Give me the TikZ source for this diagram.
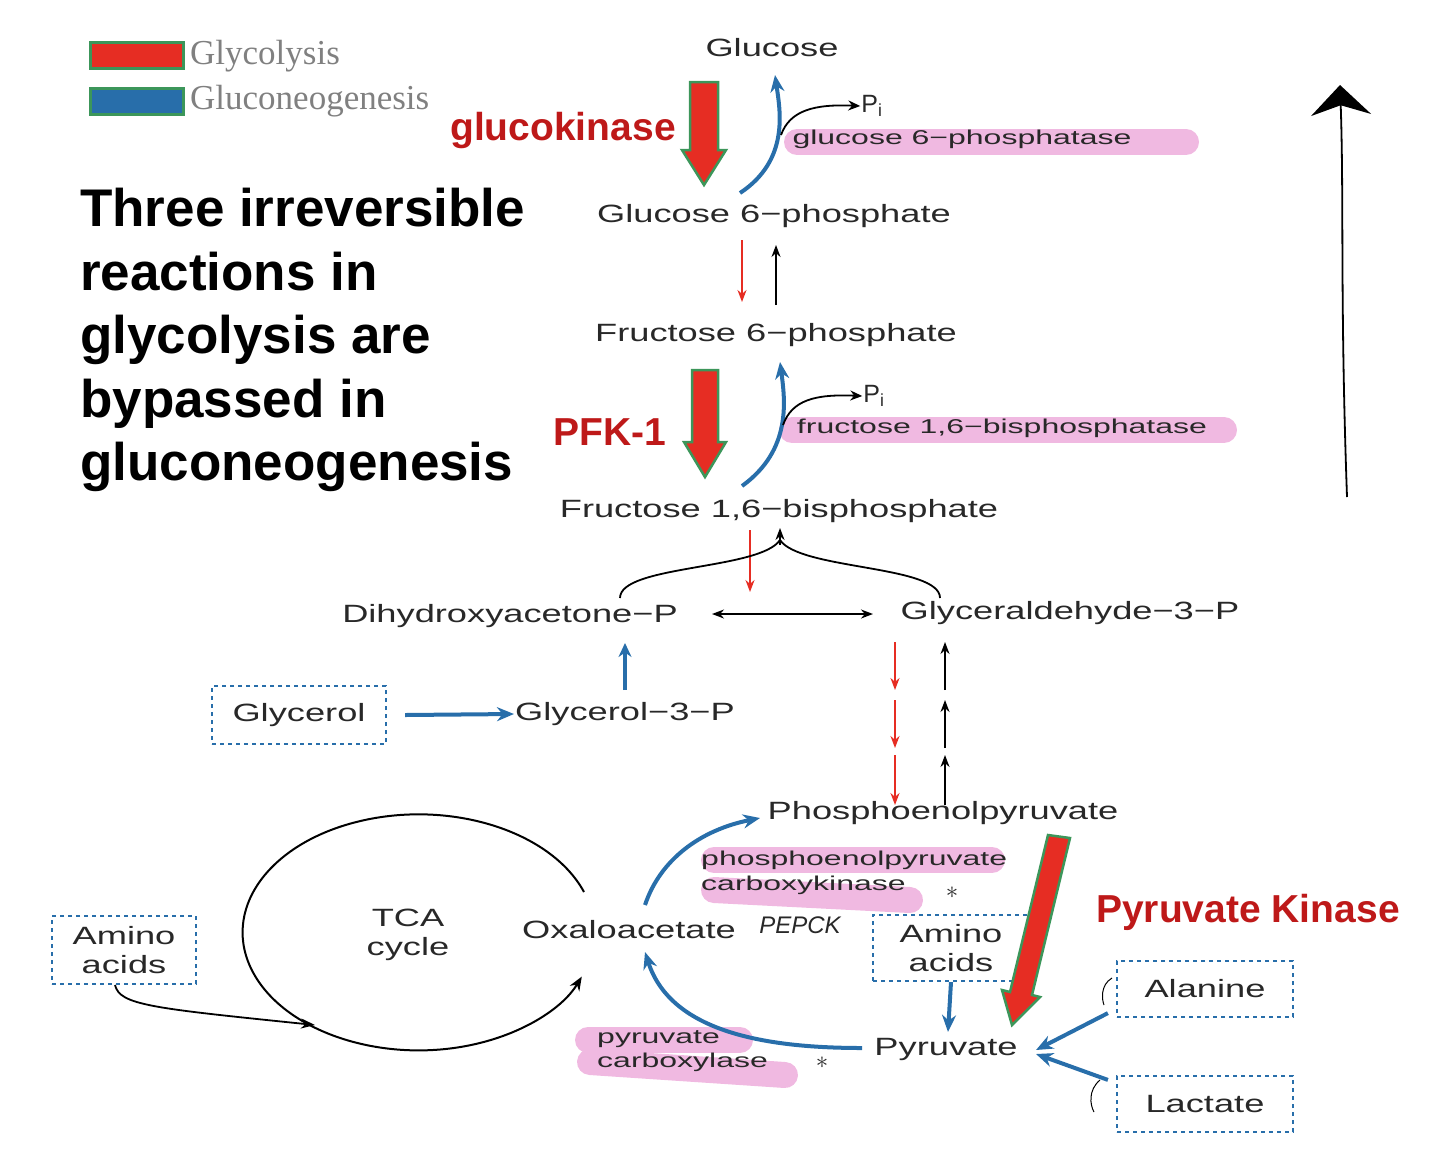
\documentclass[tikz,border=0pt]{standalone}
\usepackage{fontspec}
\setmainfont{Liberation Sans}
\newfontfamily\serifleg{Liberation Serif}
\usetikzlibrary{arrows.meta,shapes.geometric}
\definecolor{bl}{RGB}{40,110,170}
\definecolor{rd}{RGB}{230,45,35}
\definecolor{gr}{RGB}{60,150,90}
\definecolor{dred}{RGB}{190,25,25}
\definecolor{pk}{RGB}{240,185,225}
\definecolor{tx}{RGB}{40,40,40}
\newcommand{\wtx}[2][1.45]{\scalebox{#1}[1]{#2}}
\newcommand{\etx}[1]{\scalebox{1.6}[1]{#1}}
\tikzset{
 met/.style={font=\fontsize{25}{28}\selectfont, text=tx, inner sep=1pt},
 enz/.style={font=\fontsize{20}{22}\selectfont, text=tx, inner sep=1pt},
 lab/.style={font=\fontsize{39}{42}\selectfont\bfseries, text=dred},
 box/.style={draw=bl, dashed, line width=2.2pt, dash pattern=on 4pt off 4pt},
 thin/.style={line width=1.8pt,-{Stealth[length=12pt,width=9pt]}},
 blu/.style={bl, line width=4pt,-{Stealth[length=17pt,width=14pt]}},
 hl/.style={pk, line cap=round, line width=26pt},
 fat/.style={fill=rd, draw=gr, line width=2.5pt, line join=miter}
}
\begin{document}
\begin{tikzpicture}[x=1pt,y=-1pt]
\useasboundingbox (0,0) rectangle (1440,1160);
% legend
\draw[fill=rd, draw=gr, line width=3pt] (90,42) rectangle (183,68);
\draw[fill=bl, draw=gr, line width=3pt] (90,88) rectangle (183,114);
\node[anchor=west, font=\serifleg\fontsize{35}{36}\selectfont, text=gray, inner sep=1pt] (lg1) at (189,56) {Glycolysis};
\node[anchor=west, font=\serifleg\fontsize{35}{36}\selectfont, text=gray, inner sep=1pt] (lg2) at (189,101) {Gluconeogenesis};
% big text
\node[anchor=north west, align=left, font=\fontsize{53}{63.5}\selectfont\bfseries, inner sep=0] (title) at (80,188) {Three irreversible\\reactions in\\glycolysis are\\bypassed in\\gluconeogenesis};
% highlights
\draw[hl] (797,142) -- (1186,142);
\draw[hl] (792,430) -- (1224,430);
\draw[hl] (714,860) -- (992,860);
\draw[hl] (714,890) -- (910,900);
\draw[hl] (588,1040) -- (740,1040);
\draw[hl] (590,1062) -- (785,1075);
% metabolites
\node[met] (glc) at (772,48) {\wtx{Glucose}};
\node[met] (g6p) at (774,216) {\wtx{Glucose 6−phosphate}};
\node[met] (f6p) at (776,335) {\wtx{Fructose 6−phosphate}};
\node[met] (fbp) at (779,511) {\wtx{Fructose 1,6−bisphosphate}};
\node[met] (dhap) at (510,616) {\wtx{Dihydroxyacetone−P}};
\node[met] (gap) at (1070,613) {\wtx{Glyceraldehyde−3−P}};
\node[met] (g3p) at (625,714) {\wtx{Glycerol−3−P}};
\node[met] (pep) at (943,813) {\wtx{Phosphoenolpyruvate}};
\node[met] (oaa) at (629,930) {\wtx{Oxaloacetate}};
\node[met] (pyr) at (946,1049) {\wtx{Pyruvate}};
\node[met, align=center, font=\fontsize{25}{29}\selectfont] (tca) at (408,935) {\wtx{TCA}\\\wtx{cycle}};
% enzymes
\node[enz] (e1) at (962,139) {\etx{glucose 6−phosphatase}};
\node[enz] (e2) at (1002,428) {\etx{fructose 1,6−bisphosphatase}};
\node[enz, anchor=west] (e3) at (700,860) {\etx{phosphoenolpyruvate}};
\node[enz, anchor=west] (e4) at (700,885) {\etx{carboxykinase}};
\node[enz, anchor=west] (e5) at (596,1039) {\etx{pyruvate}};
\node[enz, anchor=west] (e6) at (596,1062) {\etx{carboxylase}};
\node[met] (pi1) at (872,106) {P$_\mathrm{i}$};
\node[met] (pi2) at (874,396) {P$_\mathrm{i}$};
\node[font=\fontsize{24}{24}\selectfont\itshape, text=tx] (pepck) at (800,925) {PEPCK};
\node[font=\fontsize{40}{40}\selectfont, text=tx] (ast1) at (952,893) {$\ast$};
\node[font=\fontsize{40}{40}\selectfont, text=tx] (ast2) at (822,1063) {$\ast$};
% labels
\node[lab] (gk) at (563,130) {glucokinase};
\node[lab] (pfk) at (610,432) {PFK-1};
\node[lab] (pk) at (1248,912) {Pyruvate Kinase};
% boxes
\node[box, minimum width=174pt, minimum height=58pt, met] (gly) at (299,715) {\wtx{Glycerol}};
\node[box, minimum width=144pt, minimum height=68pt, met, align=center, font=\fontsize{25}{29}\selectfont] (aa1) at (124,950) {\wtx{Amino}\\\wtx{acids}};
\node[box, minimum width=156pt, minimum height=66pt, met, align=center, font=\fontsize{25}{29}\selectfont] (aa2) at (951,948) {\wtx{Amino}\\\wtx{acids}};
\node[box, minimum width=176pt, minimum height=56pt, met] (ala) at (1205,989) {\wtx{Alanine}};
\node[box, minimum width=176pt, minimum height=56pt, met] (lac) at (1205,1104) {\wtx{Lactate}};
% fat arrows
\draw[fat] (690,82) -- (718,82) -- (718,150) -- (726,150) -- (704,185) -- (682,150) -- (690,150) -- cycle;
\draw[fat] (692,370) -- (718,370) -- (718,442) -- (726,442) -- (705,477) -- (684,442) -- (692,442) -- cycle;
\draw[fat] (1048,835) -- (1070,838) -- (1032,995) -- (1040,997) -- (1012,1025) -- (1002,990) -- (1010,992) -- cycle;
% coordinates
\coordinate (c1) at (740,193); \coordinate (c1e) at (775,75);
\coordinate (c2) at (742,486); \coordinate (c2e) at (780,362);
% blue curved
\draw[blu] (c1) .. controls (790,160) and (780,110) .. (c1e);
\draw[blu] (c2) .. controls (792,450) and (785,400) .. (c2e);
\draw[black, line width=1.8pt,-{Stealth[length=12pt,width=10pt]}] (781,135) .. controls (790,110) and (815,104) .. (pi1.west);
\draw[black, line width=1.8pt,-{Stealth[length=12pt,width=10pt]}] (783,425) .. controls (792,400) and (815,394) .. (pi2.west);
% small arrows
\draw[thin, rd] (742,240) -- (742,302);
\draw[thin, black] (776,305) -- (776,245);
\draw[thin, rd] (750,530) -- (750,592);
\draw[black, line width=1.8pt] (620,598) .. controls (620,565) and (760,570) .. (780,540);
\draw[black, line width=1.8pt] (940,598) .. controls (940,565) and (800,570) .. (780,540);
\draw[thin, black] (780,545) -- (780,528);
\draw[black, line width=1.8pt,{Stealth[length=12pt,width=9pt]}-{Stealth[length=12pt,width=9pt]}] (712,614) -- (873,614);
\draw[bl, line width=4pt,-{Stealth[length=14pt,width=13pt]}] (625,690) -- (625,643);
\draw[blu] (gly.east) ++(18,0) -- (g3p.west);
\foreach \a/\b in {642/690,700/748,755/805}{
 \draw[thin, rd] (895,\a) -- (895,\b);
 \draw[thin, black] (945,\b) -- (945,\a);
}
% TCA
\draw[black, line width=2pt,-{Stealth[length=14pt,width=11pt]}] (584,892) arc[start angle=20, end angle=338, x radius=176pt, y radius=118pt];
\draw[black, line width=1.8pt,-{Stealth[length=14pt,width=10pt]}] (115,985) .. controls (120,1005) and (150,1008) .. (315,1025);
\draw[blu] (645,905) .. controls (660,860) and (700,830) .. (760,818);
\draw[blu] (862,1048) .. controls (760,1048) and (670,1030) .. (645,952);
\draw[blu] (aa2.south) -- (948,1032);
\draw[blu] (ala.south west) ++(-8,-5) -- (1036,1050);
\draw[blu] (lac.north west) ++(-8,5) -- (1036,1054);
\draw[black, line width=1pt] (1112,978) .. controls (1100,985) and (1102,1000) .. (1104,1005);
\draw[black, line width=1pt] (1100,1080) .. controls (1088,1090) and (1090,1105) .. (1094,1112);
% right big arrow
\draw[black, line width=1.8pt,-{Stealth[length=30pt,width=60pt]}] (1347,497) .. controls (1340,300) and (1344,200) .. (1340,85);
\end{tikzpicture}
\end{document}
